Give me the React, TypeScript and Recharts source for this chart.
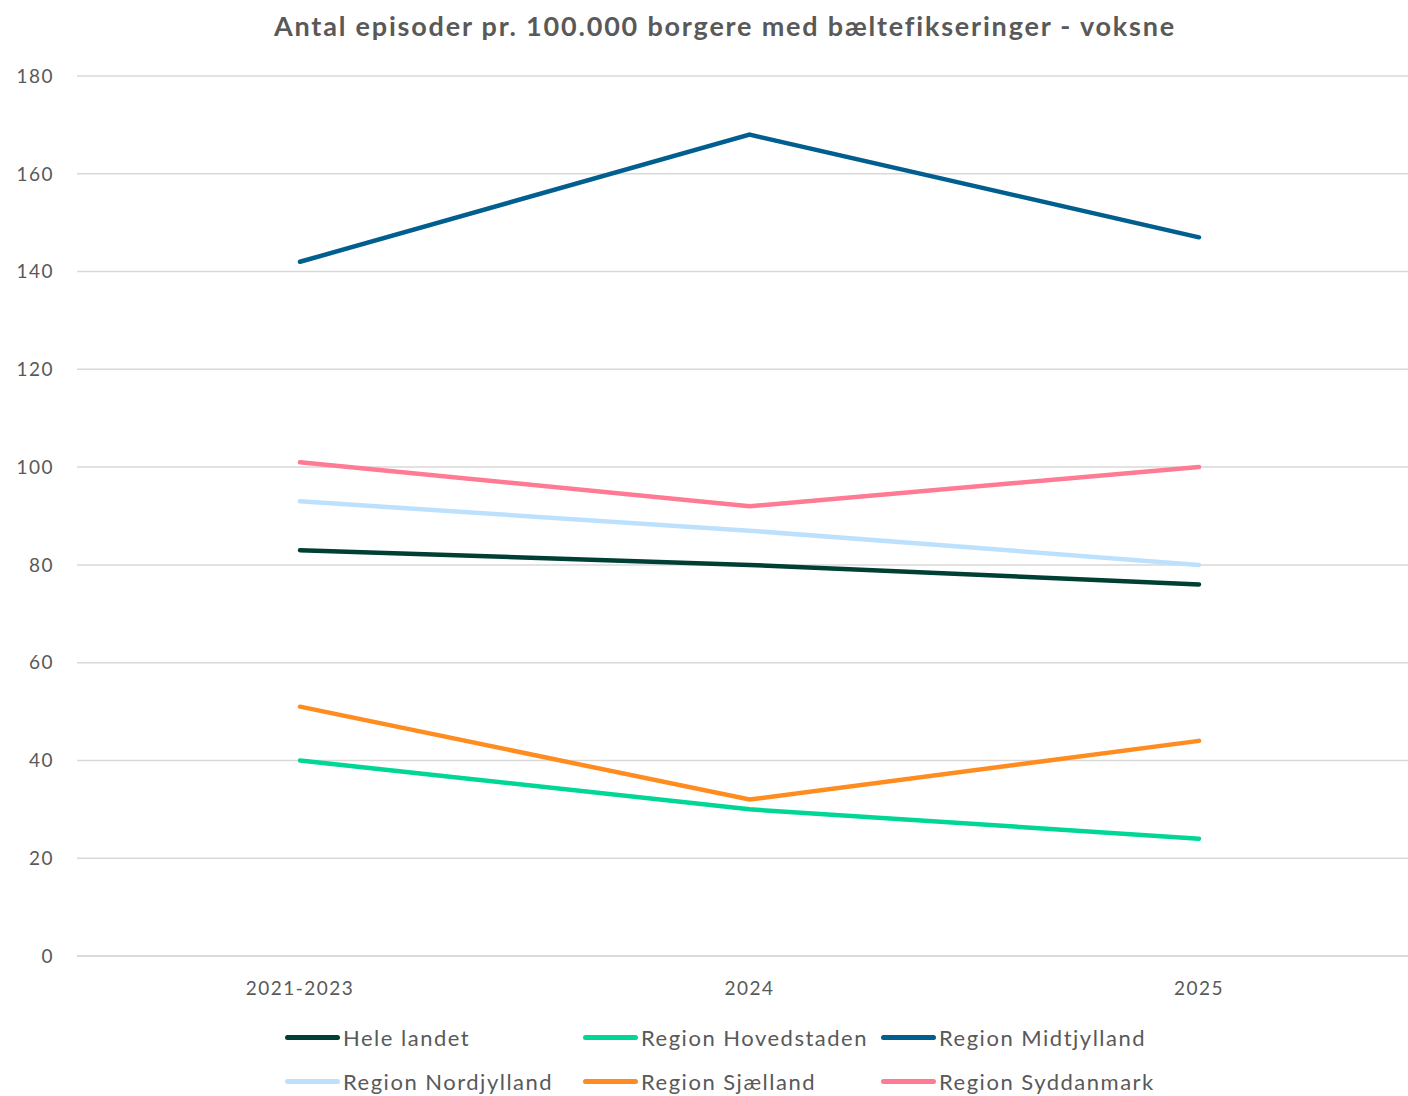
import React from 'react';
import { CartesianGrid, Legend, Line, LineChart, XAxis, YAxis } from 'recharts';

const periods = ['2021-2023', '2024', '2025'];
const heleLandet = [83, 80, 76];
const hovedstaden = [40, 30, 24];
const midtjylland = [142, 168, 147];
const nordjylland = [93, 87, 80];
const sjaelland = [51, 32, 44];
const syddanmark = [101, 92, 100];
const yTicks = [0, 20, 40, 60, 80, 100, 120, 140, 160, 180];

const series = [
  { key: 'Hele landet', values: heleLandet, color: '#003F33' },
  { key: 'Region Hovedstaden', values: hovedstaden, color: '#00D696' },
  { key: 'Region Midtjylland', values: midtjylland, color: '#005F8F' },
  { key: 'Region Nordjylland', values: nordjylland, color: '#BDE1FC' },
  { key: 'Region Sjælland', values: sjaelland, color: '#FF8C1F' },
  { key: 'Region Syddanmark', values: syddanmark, color: '#FF7A93' },
];

const data = periods.map((p, i) => {
  const row: Record<string, string | number> = { period: p };
  series.forEach((s) => (row[s.key] = s.values[i]));
  return row;
});

const FONT = 'Lato, "Open Sans", sans-serif';
const GREY = '#595959';

function LegendContent() {
  return (
    <div style={{ display: 'flex', flexWrap: 'wrap', paddingLeft: 285, width: 1000, fontFamily: FONT }}>
      {series.map((s) => (
        <div key={s.key} style={{ width: 298, height: 44, display: 'flex', alignItems: 'center' }}>
          <span style={{ width: 55, height: 5, borderRadius: 3, background: s.color, marginRight: 3 }} />
          <span style={{ fontSize: 22, color: GREY, letterSpacing: 1.5, whiteSpace: 'nowrap' }}>{s.key}</span>
        </div>
      ))}
    </div>
  );
}

export default function App() {
  return (
    <div style={{ position: 'absolute', left: 0, top: 0, width: 1408, height: 1096, background: '#fff' }}>
      <div
        style={{
          position: 'absolute',
          top: 9,
          left: 0,
          width: 1450,
          textAlign: 'center',
          fontFamily: FONT,
          fontWeight: 700,
          fontSize: 27,
          letterSpacing: 1.8,
          color: GREY,
        }}
      >
        Antal episoder pr. 100.000 borgere med bæltefikseringer - voksne
      </div>
      <LineChart width={1408} height={1096} data={data} margin={{ top: 76, right: 0, left: 0, bottom: 110 }}>
        <CartesianGrid vertical={false} stroke="#d9d9d9" strokeWidth={1.5} />
        <XAxis
          dataKey="period"
          padding={{ left: 223, right: 209 }}
          axisLine={{ stroke: '#d9d9d9', strokeWidth: 1.5 }}
          tickLine={false}
          tickSize={0}
          tickMargin={26}
          tick={{ fill: GREY, fontSize: 19, fontFamily: FONT, letterSpacing: 1.5 }}
        />
        <YAxis
          width={77}
          domain={[0, 180]}
          ticks={yTicks}
          axisLine={false}
          tickLine={false}
          tickSize={0}
          tickMargin={23}
          tick={{ fill: GREY, fontSize: 19, fontFamily: FONT, letterSpacing: 1.5 }}
        />
        <Legend
          layout="horizontal"
          verticalAlign="middle"
          align="center"
          wrapperStyle={{ top: 1015, left: 0, width: 1408 }}
          content={<LegendContent />}
        />
        {series.map((s) => (
          <Line
            key={s.key}
            dataKey={s.key}
            stroke={s.color}
            strokeWidth={4.5}
            strokeLinecap="round"
            dot={false}
            activeDot={false}
            type="linear"
            isAnimationActive={false}
          />
        ))}
      </LineChart>
    </div>
  );
}
